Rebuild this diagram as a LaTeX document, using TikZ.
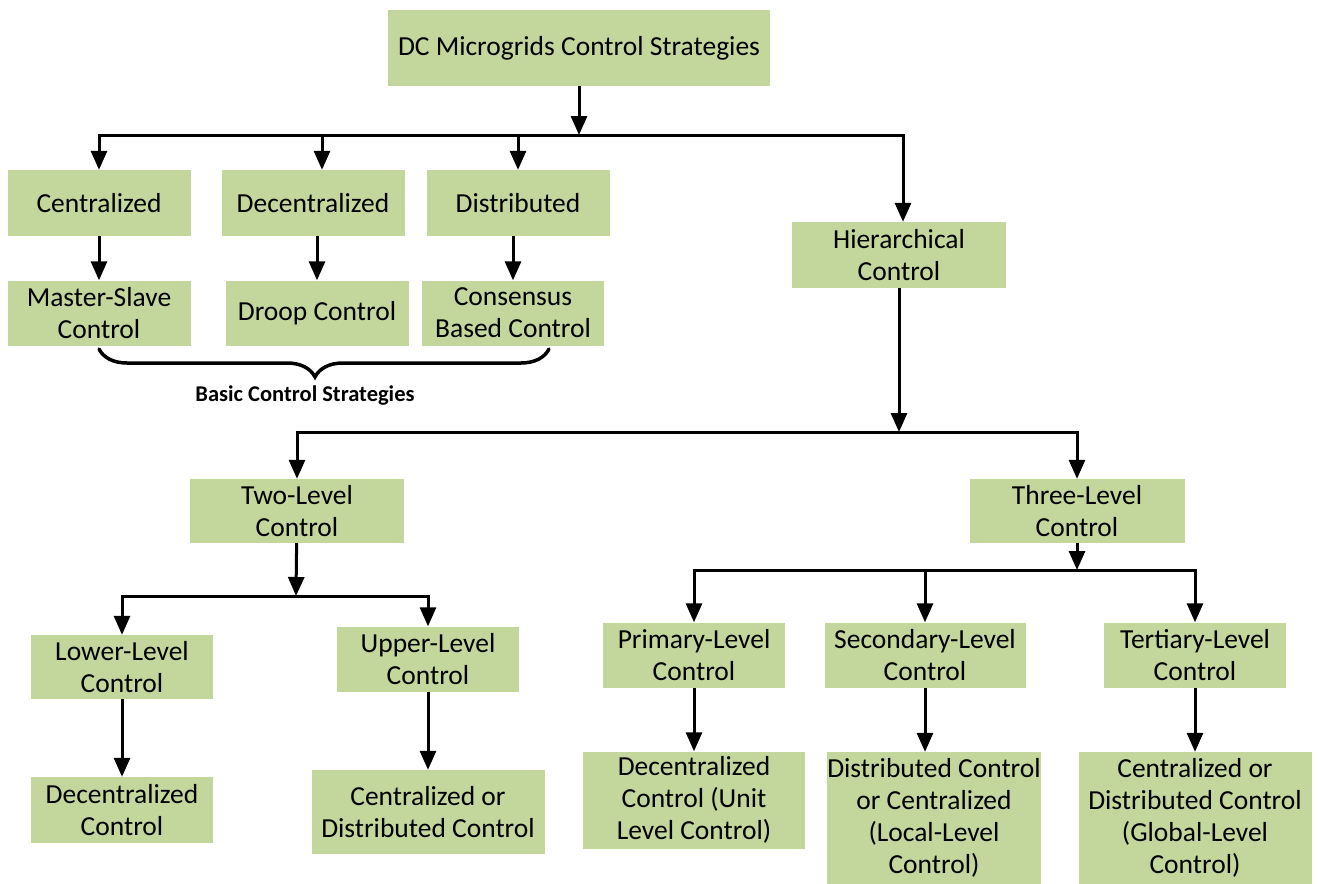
\documentclass[tikz,border=0pt]{standalone}
\usepackage{fontspec}
\setmainfont{Carlito}
\usetikzlibrary{arrows.meta,decorations.pathreplacing}
\definecolor{boxgreen}{HTML}{C3D69B}
\tikzset{
  box/.style={fill=boxgreen, draw=none, inner sep=0pt, align=center,
    font=\fontsize{27.5}{32}\selectfont},
  arr/.style={line width=3pt, -{Triangle[width=16pt,length=19pt]}},
}
\begin{document}
\begin{tikzpicture}[x=1pt,y=-1pt]
\useasboundingbox (0,0) rectangle (1318,884);

% root
\node[box, minimum width=382pt, minimum height=76pt] (top) at (579,48) {DC Microgrids Control Strategies};

% first row of strategies
\node[box, minimum width=183pt, minimum height=66pt] (cen)  at (99,203)  {Centralized};
\node[box, minimum width=183pt, minimum height=66pt] (dec)  at (313,203) {Decentralized};
\node[box, minimum width=183pt, minimum height=66pt] (dist) at (518,203) {Distributed};
\node[box, minimum width=214pt, minimum height=66pt] (hier) at (899,255) {Hierarchical\\Control};

% basic strategies
\node[box, minimum width=183pt, minimum height=65pt] (ms)    at (99,313)  {Master-Slave\\Control};
\node[box, minimum width=183pt, minimum height=65pt] (droop) at (317,313) {Droop Control};
\node[box, minimum width=182pt, minimum height=65pt] (cons)  at (513,313) {Consensus\\Based Control};

% hierarchical variants
\node[box, minimum width=214pt, minimum height=64pt] (two)   at (297,511)  {Two-Level\\Control};
\node[box, minimum width=215pt, minimum height=64pt] (three) at (1077,511) {Three-Level\\Control};

% two-level branch
\node[box, minimum width=182pt, minimum height=64pt] (low)    at (122,667) {Lower-Level\\Control};
\node[box, minimum width=182pt, minimum height=65pt] (up)     at (428,659) {Upper-Level\\Control};
\node[box, minimum width=182pt, minimum height=66pt] (lowdec) at (122,810) {Decentralized\\Control};
\node[box, minimum width=233pt, minimum height=84pt] (upcd)   at (428,812) {Centralized or\\Distributed Control};

% three-level branch
\node[box, minimum width=182pt, minimum height=65pt] (prim) at (694,655)  {Primary-Level\\Control};
\node[box, minimum width=201pt, minimum height=65pt] (sec)  at (925,655)  {Secondary-Level\\Control};
\node[box, minimum width=182pt, minimum height=65pt] (ter)  at (1195,655) {Tertiary-Level\\Control};
\node[box, minimum width=222pt, minimum height=97pt] (pdec) at (694,800)  {Decentralized\\Control (Unit\\Level Control)};
\node[box, minimum width=214pt, minimum height=132pt] (sdc) at (934,818)  {Distributed Control\\or Centralized\\(Local-Level\\Control)};
\node[box, minimum width=233pt, minimum height=132pt] (tcd) at (1195,818) {Centralized or\\Distributed Control\\(Global-Level\\Control)};

% junction points of the bars
\coordinate (j1) at (579,135);
\coordinate (j2) at (899,432);
\coordinate (j3) at (296,596);
\coordinate (j4) at (1077,570);

% root to first row
\draw[arr] (top) -- (j1);
\draw[arr] (j1) -| ([xshift=9pt]dec.north);
\draw[arr] (j1) -| (cen);
\draw[arr] (j1) -| (dist);
\draw[arr] (j1) -| ([xshift=4pt]hier.north);

% first row to basic strategies
\draw[arr] (cen) -- (ms);
\draw[arr] (droop |- dec.south) -- (droop);
\draw[arr] (cons |- dist.south) -- (cons);

% hierarchical split
\draw[arr] (hier) -- (j2);
\draw[arr] (j2) -| (two);
\draw[arr] (j2) -| (three);

% two-level split
\draw[arr] (two) -- (j3);
\draw[arr] (j3) -| (low);
\draw[arr] (j3) -| (up);
\draw[arr] (low) -- (lowdec);
\draw[arr] (up) -- (upcd);

% three-level split
\draw[arr] (three) -- (j4);
\draw[arr] (j4) -| (prim);
\draw[arr] (j4) -| (sec);
\draw[arr] (j4) -| (ter);
\draw[arr] (prim) -- (pdec);
\draw[arr] (sec) -- (sec |- sdc.north);
\draw[arr] (ter) -- (tcd);

% brace under the basic strategies
\coordinate (bl) at (99,349);
\coordinate (br) at (549,349);
\draw[line width=3.5pt, line cap=round, decorate,
      decoration={brace, mirror, amplitude=28pt, aspect=0.48}] (bl) -- (br);
\node[font=\fontsize{22.5}{26}\selectfont\bfseries] (basic) at (305,396) {Basic Control Strategies};
\end{tikzpicture}
\end{document}
